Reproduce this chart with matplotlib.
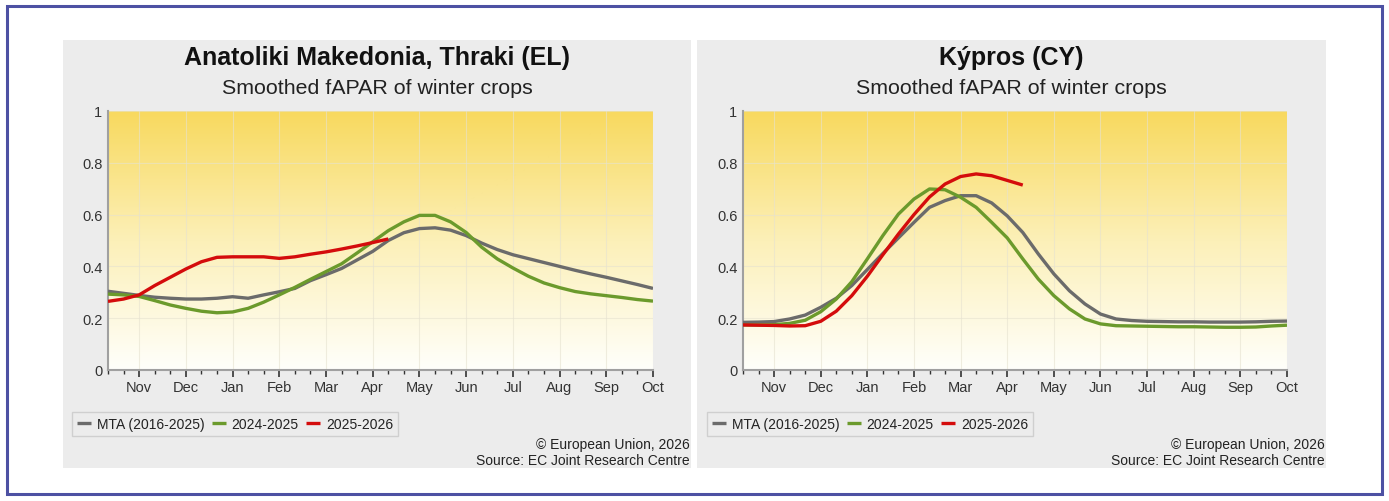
import numpy as np
import matplotlib.pyplot as plt
from matplotlib.colors import LinearSegmentedColormap
from matplotlib.patches import Rectangle

plt.rcParams['font.family'] = ['Liberation Sans', 'DejaVu Sans']

W, H = 1389, 502

# dekads from mid-October to the 1st of October
months = ['Nov', 'Dec', 'Jan', 'Feb', 'Mar', 'Apr', 'May', 'Jun', 'Jul', 'Aug', 'Sep', 'Oct']
month_dekad = [2, 5, 8, 11, 14, 17, 20, 23, 26, 29, 32, 35]
n_dekads = 36

# Anatoliki Makedonia, Thraki (EL)
el_mta = [0.304, 0.296, 0.288, 0.281, 0.277, 0.274, 0.274, 0.277, 0.283, 0.277, 0.290, 0.302,
          0.315, 0.345, 0.368, 0.392, 0.425, 0.458, 0.500, 0.530, 0.546, 0.549, 0.540, 0.519,
          0.490, 0.465, 0.445, 0.430, 0.415, 0.400, 0.385, 0.371, 0.358, 0.344, 0.330, 0.315]
el_2425 = [0.293, 0.290, 0.284, 0.268, 0.251, 0.238, 0.227, 0.221, 0.224, 0.238, 0.262, 0.290,
           0.319, 0.350, 0.380, 0.410, 0.452, 0.495, 0.538, 0.572, 0.597, 0.597, 0.572, 0.531,
           0.474, 0.429, 0.394, 0.362, 0.336, 0.318, 0.303, 0.294, 0.287, 0.280, 0.272, 0.266]
el_2526 = [0.265, 0.274, 0.290, 0.326, 0.358, 0.390, 0.418, 0.435, 0.437, 0.437, 0.437, 0.431,
           0.437, 0.447, 0.456, 0.467, 0.479, 0.492, 0.506]

# Kýpros (CY)
cy_mta = [0.184, 0.185, 0.187, 0.197, 0.212, 0.242, 0.277, 0.326, 0.388, 0.450, 0.510, 0.570,
          0.628, 0.654, 0.673, 0.673, 0.645, 0.595, 0.531, 0.448, 0.371, 0.306, 0.255, 0.216,
          0.197, 0.191, 0.188, 0.187, 0.186, 0.186, 0.185, 0.185, 0.185, 0.186, 0.188, 0.189]
cy_2425 = [0.174, 0.174, 0.175, 0.180, 0.192, 0.225, 0.274, 0.341, 0.429, 0.519, 0.602, 0.660,
           0.699, 0.696, 0.667, 0.628, 0.570, 0.510, 0.429, 0.351, 0.287, 0.236, 0.197, 0.178,
           0.171, 0.170, 0.169, 0.168, 0.167, 0.167, 0.166, 0.165, 0.165, 0.166, 0.170, 0.173]
cy_2526 = [0.174, 0.173, 0.172, 0.170, 0.171, 0.188, 0.227, 0.287, 0.362, 0.445, 0.525, 0.600,
           0.668, 0.718, 0.747, 0.757, 0.750, 0.732, 0.714]

series_names = ['MTA (2016-2025)', '2024-2025', '2025-2026']
series_colors = ['#6b6b6b', '#6b9a2c', '#d40c0c']

panels = [
    dict(title='Anatoliki Makedonia, Thraki (EL)', data=[el_mta, el_2425, el_2526],
         box=(63, 41, 691, 469), plot=(108, 112, 653, 371), legend=(72, 413)),
    dict(title='Kýpros (CY)', data=[cy_mta, cy_2425, cy_2526],
         box=(697, 41, 1326, 469), plot=(743, 112, 1287, 371), legend=(707, 413)),
]

bg = LinearSegmentedColormap.from_list('sun', ['#fffffb', '#fcf0b8', '#f8d95e'])

fig = plt.figure(figsize=(W / 100, H / 100), dpi=100)
fig.patch.set_facecolor('white')


def fx(px):
    return px / W


def fy(py):
    return 1 - py / H


# blue outer frame
fig.add_artist(Rectangle((fx(7), fy(495)), fx(1375), (495 - 7) / H, transform=fig.transFigure,
                         fill=False, edgecolor='#4d51a3', lw=2.2))

for p in panels:
    x0, y0, x1, y1 = p['box']
    fig.add_artist(Rectangle((fx(x0), fy(y1)), fx(x1 - x0), (y1 - y0) / H,
                             transform=fig.transFigure, facecolor='#ececec', edgecolor='none',
                             zorder=0))
    cx = fx((x0 + x1) / 2)
    fig.text(cx, fy(58), p['title'], ha='center', va='center', fontsize=18, fontweight='bold',
             color='#111111')
    fig.text(cx, fy(88), 'Smoothed fAPAR of winter crops', ha='center', va='center',
             fontsize=15.4, color='#222222')
    fig.text(fx(x1 - 1), fy(445), '© European Union, 2026', ha='right', va='center',
             fontsize=10, color='#222222')
    fig.text(fx(x1 - 1), fy(461), 'Source: EC Joint Research Centre', ha='right', va='center',
             fontsize=10, color='#222222')

    px0, py0, px1, py1 = p['plot']
    ax = fig.add_axes([fx(px0), fy(py1), fx(px1 - px0), (py1 - py0) / H])
    ax.set_facecolor('none')
    ax.imshow(np.linspace(0, 1, 256).reshape(-1, 1), cmap=bg, origin='lower', aspect='auto',
              extent=[0, n_dekads - 1, 0, 1], zorder=0)

    for vals, name, col in zip(p['data'], series_names, series_colors):
        ax.plot(np.arange(len(vals)), vals, color=col, lw=2.4, label=name, zorder=3,
                solid_joinstyle='round', solid_capstyle='butt')

    ax.set_xlim(0, n_dekads - 1)
    ax.set_ylim(0, 1)
    ax.set_xticks(month_dekad)
    ax.set_xticklabels(months)
    ax.set_xticks([d for d in range(n_dekads) if d not in month_dekad], minor=True)
    ax.set_yticks([0, 0.2, 0.4, 0.6, 0.8, 1])
    ax.set_yticklabels(['0', '0.2', '0.4', '0.6', '0.8', '1'])
    ax.grid(True, which='major', color='#e6e2d0', lw=0.8, alpha=0.6, zorder=1)
    ax.tick_params(axis='x', which='major', length=5, width=1.2, color='#333333',
                   labelsize=10.5, labelcolor='#333333', pad=2)
    ax.tick_params(axis='x', which='minor', length=3, width=1, color='#333333')
    ax.tick_params(axis='y', length=0, labelsize=10.5, labelcolor='#333333', pad=4)
    for s in ['top', 'right']:
        ax.spines[s].set_visible(False)
    for s in ['left', 'bottom']:
        ax.spines[s].set_color('#a0a0a0')
        ax.spines[s].set_linewidth(1.5)

    lx, ly = p['legend']
    leg = fig.legend(*ax.get_legend_handles_labels(), loc='upper left',
                     bbox_to_anchor=(fx(lx), fy(ly)), ncol=3, frameon=True, fontsize=10,
                     handlelength=1.05, handletextpad=0.4, columnspacing=0.5,
                     borderpad=0.35, borderaxespad=0, fancybox=False)
    leg.get_frame().set_facecolor('#ececec')
    leg.get_frame().set_edgecolor('#c8c8c8')
    leg.get_frame().set_linewidth(1)
    for t in leg.get_texts():
        t.set_color('#222222')

fig.savefig('out.png', dpi=100)
